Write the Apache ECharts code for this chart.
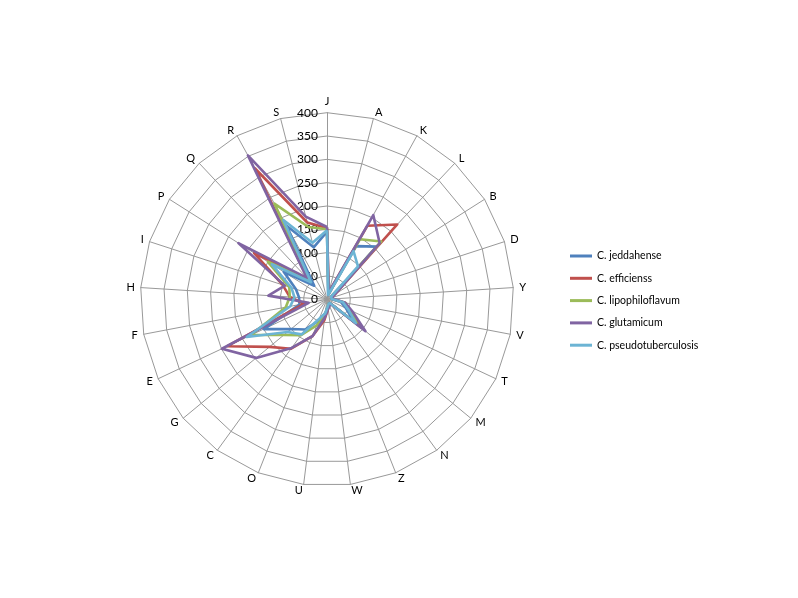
<!DOCTYPE html>
<html>
<head>
<meta charset="utf-8">
<script src="https://cdn.jsdelivr.net/npm/echarts@6/dist/echarts.min.js"></script>
<style>
html,body{margin:0;padding:0;background:#fff;}
#chart{width:798px;height:598px;}
</style>
</head>
<body>
<div id="chart"></div>
<script>
// Axes in clockwise order starting from the top
const categories = ['J','A','K','L','B','D','Y','V','T','M','N','Z','W','U','O','C','G','E','F','H','I','P','Q','R','S'];
const tickLabels = [0,50,100,150,200,250,300,350,400];
const seriesNames = ['C. jeddahense','C. efficienss','C. lipophiloflavum','C. glutamicum','C. pseudotuberculosis'];
//                   J   A   K   L   B   D   Y   V   T   M   N   Z   W   U   O   C   G   E   F   H   I   P   Q   R   S
const jeddahense   = [145,10,130,155,15, 10, 10, 30, 45, 75, 10, 10, 15, 30, 50, 80, 100,150,60, 60, 70, 110,40, 180,115];
const efficienss   = [153,15,180,220,20, 10, 12, 38, 55, 95, 10, 12, 20, 45, 85, 131,160,236,50, 80, 100,185,60, 320,170];
const lipophilo    = [150,12,147,170,15, 10, 12, 40, 55, 85, 10, 10, 15, 35, 60, 95, 120,180,90, 80, 85, 150,55, 234,160];
const glutamicum   = [155,15,206,165,20, 10, 15, 40, 60, 107,10, 15, 20, 40, 85, 129,197,249,40, 126,95, 225,63, 352,183];
const pseudotub    = [148,10,118,97, 10, 10, 10, 35, 50, 80, 10, 10, 15, 30, 45, 93, 110,190,80, 70, 80, 140,50, 194,125];
const colors = ['#4F81BD','#C0504D','#9BBB59','#8064A2','#6CB4D4'];

// ECharts lays radar indicators counter-clockwise; reorder to clockwise.
function cw(arr){ return [arr[0]].concat(arr.slice(1).reverse()); }
const order = cw(categories);
const indicator = order.map((n,i)=>({
  name:n, min:0, max:400,
  axisLabel: i===0 ? {show:true} : {show:false}
}));
const allData = [jeddahense, efficienss, lipophilo, glutamicum, pseudotub];

const chart = echarts.init(document.getElementById('chart'));
chart.setOption({
  animation:false,
  backgroundColor:'#fff',
  color: colors,
  legend:{
    orient:'vertical', left:565, top:244,
    icon:'rect', itemWidth:22, itemHeight:3, itemGap:8.3,
    textStyle:{fontSize:10.5, color:'#000', lineHeight:14, fontFamily:'Lato'},
    data: seriesNames
  },
  radar:{
    center:[327,299.3], radius:186.6, startAngle:90, shape:'polygon', splitNumber:8,
    indicator: indicator,
    axisName:{color:'#000', fontSize:11, fontFamily:'Lato'},
    nameGap:6,
    splitLine:{lineStyle:{color:'#999', width:1}},
    splitArea:{show:false},
    axisLine:{lineStyle:{color:'#999', width:1}},
    axisTick:{show:false},
    axisLabel:{show:false, color:'#000', fontSize:12, fontFamily:'Lato', margin:9,
      formatter: v => (tickLabels.indexOf(v) >= 0 ? String(v) : '')}
  },
  series: allData.map((d,i)=>({
    type:'radar',
    name: seriesNames[i],
    symbol:'none',
    lineStyle:{width:2.6, color:colors[i]},
    itemStyle:{color:colors[i]},
    z: 2+i,
    data:[{value: cw(d), name: seriesNames[i]}]
  }))
});
</script>
</body>
</html>
